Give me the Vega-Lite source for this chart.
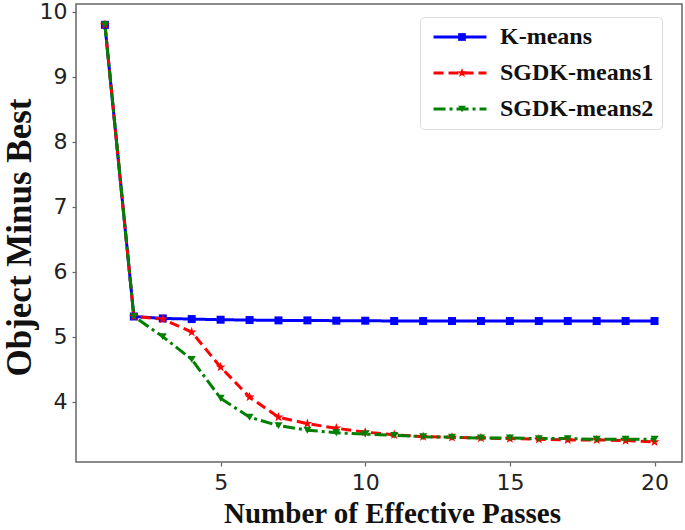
{
  "$schema": "https://vega.github.io/schema/vega-lite/v6.json",
  "autosize": "none",
  "width": 606,
  "height": 458,
  "padding": {"left": 76, "top": 4, "right": 3, "bottom": 68},
  "background": "white",
  "config": {
    "view": {"stroke": "#666", "strokeWidth": 1.5},
    "axis": {
      "grid": false, "domain": false,
      "tickColor": "#666", "tickSize": 4, "tickWidth": 1.2,
      "labelFont": "DejaVu Sans", "labelFontSize": 22, "labelColor": "#222",
      "titleFont": "Liberation Serif", "titleFontWeight": "bold", "titleColor": "#111"
    }
  },
  "data": {"values": [
    {"pass": 1, "series": "K-means", "value": 9.8},
    {"pass": 2, "series": "K-means", "value": 5.31},
    {"pass": 3, "series": "K-means", "value": 5.28},
    {"pass": 4, "series": "K-means", "value": 5.27},
    {"pass": 5, "series": "K-means", "value": 5.26},
    {"pass": 6, "series": "K-means", "value": 5.255},
    {"pass": 7, "series": "K-means", "value": 5.25},
    {"pass": 8, "series": "K-means", "value": 5.25},
    {"pass": 9, "series": "K-means", "value": 5.245},
    {"pass": 10, "series": "K-means", "value": 5.245},
    {"pass": 11, "series": "K-means", "value": 5.24},
    {"pass": 12, "series": "K-means", "value": 5.24},
    {"pass": 13, "series": "K-means", "value": 5.24},
    {"pass": 14, "series": "K-means", "value": 5.24},
    {"pass": 15, "series": "K-means", "value": 5.24},
    {"pass": 16, "series": "K-means", "value": 5.24},
    {"pass": 17, "series": "K-means", "value": 5.24},
    {"pass": 18, "series": "K-means", "value": 5.24},
    {"pass": 19, "series": "K-means", "value": 5.24},
    {"pass": 20, "series": "K-means", "value": 5.24},
    {"pass": 1, "series": "SGDK-means1", "value": 9.8},
    {"pass": 2, "series": "SGDK-means1", "value": 5.31},
    {"pass": 3, "series": "SGDK-means1", "value": 5.27},
    {"pass": 4, "series": "SGDK-means1", "value": 5.07},
    {"pass": 5, "series": "SGDK-means1", "value": 4.53},
    {"pass": 6, "series": "SGDK-means1", "value": 4.07},
    {"pass": 7, "series": "SGDK-means1", "value": 3.76},
    {"pass": 8, "series": "SGDK-means1", "value": 3.66},
    {"pass": 9, "series": "SGDK-means1", "value": 3.59},
    {"pass": 10, "series": "SGDK-means1", "value": 3.53},
    {"pass": 11, "series": "SGDK-means1", "value": 3.49},
    {"pass": 12, "series": "SGDK-means1", "value": 3.46},
    {"pass": 13, "series": "SGDK-means1", "value": 3.45},
    {"pass": 14, "series": "SGDK-means1", "value": 3.44},
    {"pass": 15, "series": "SGDK-means1", "value": 3.43},
    {"pass": 16, "series": "SGDK-means1", "value": 3.42},
    {"pass": 17, "series": "SGDK-means1", "value": 3.41},
    {"pass": 18, "series": "SGDK-means1", "value": 3.41},
    {"pass": 19, "series": "SGDK-means1", "value": 3.4},
    {"pass": 20, "series": "SGDK-means1", "value": 3.38},
    {"pass": 1, "series": "SGDK-means2", "value": 9.8},
    {"pass": 2, "series": "SGDK-means2", "value": 5.31},
    {"pass": 3, "series": "SGDK-means2", "value": 5.0},
    {"pass": 4, "series": "SGDK-means2", "value": 4.65},
    {"pass": 5, "series": "SGDK-means2", "value": 4.05},
    {"pass": 6, "series": "SGDK-means2", "value": 3.76},
    {"pass": 7, "series": "SGDK-means2", "value": 3.63},
    {"pass": 8, "series": "SGDK-means2", "value": 3.56},
    {"pass": 9, "series": "SGDK-means2", "value": 3.52},
    {"pass": 10, "series": "SGDK-means2", "value": 3.5},
    {"pass": 11, "series": "SGDK-means2", "value": 3.48},
    {"pass": 12, "series": "SGDK-means2", "value": 3.46},
    {"pass": 13, "series": "SGDK-means2", "value": 3.45},
    {"pass": 14, "series": "SGDK-means2", "value": 3.44},
    {"pass": 15, "series": "SGDK-means2", "value": 3.44},
    {"pass": 16, "series": "SGDK-means2", "value": 3.43},
    {"pass": 17, "series": "SGDK-means2", "value": 3.43},
    {"pass": 18, "series": "SGDK-means2", "value": 3.42},
    {"pass": 19, "series": "SGDK-means2", "value": 3.42},
    {"pass": 20, "series": "SGDK-means2", "value": 3.42}
  ]},
  "encoding": {
    "x": {
      "field": "pass", "type": "quantitative",
      "scale": {"domain": [0, 20.95], "nice": false, "zero": false},
      "axis": {"values": [5, 10, 15, 20], "title": "Number of Effective Passes", "titleFontSize": 29, "titlePadding": 6, "labelPadding": 6, "titleX": 316}
    },
    "y": {
      "field": "value", "type": "quantitative",
      "scale": {"domain": [3.07, 10.12], "nice": false, "zero": false},
      "axis": {"values": [4, 5, 6, 7, 8, 9, 10], "title": "Object Minus Best", "titleFontSize": 35, "titlePadding": 2, "labelPadding": 5, "titleY": 233}
    }
  },
  "layer": [
    {
      "mark": {"type": "line", "strokeWidth": 3},
      "encoding": {
        "color": {
          "field": "series", "type": "nominal",
          "scale": {"range": ["#0000ff", "#ff0000", "#008000"]},
          "legend": {
            "orient": "none", "legendX": 344, "legendY": 13, "title": null, "zindex": 1,
            "symbolType": "M-5,0H5", "symbolSize": 112, "symbolStrokeWidth": 3, "symbolOffset": 20,
            "labelFont": "Liberation Serif", "labelFontWeight": "bold", "labelFontSize": 24, "labelColor": "#111",
            "labelOffset": 28, "padding": 8, "rowPadding": 12,
            "fillColor": "white", "strokeColor": "#ddd", "cornerRadius": 4
          }
        },
        "strokeDash": {
          "field": "series", "type": "nominal",
          "scale": {"range": [[1, 0], [10, 5], [12, 4, 3, 4]]}
        }
      }
    },
    {
      "mark": {"type": "point", "filled": true, "opacity": 1, "size": 64, "strokeWidth": 0},
      "encoding": {
        "fill": {
          "field": "series", "type": "nominal",
          "scale": {"domain": ["K-means", "SGDK-means1", "SGDK-means2"], "range": ["#0000ff", "#ff0000", "#008000"]},
          "legend": {
            "orient": "none", "legendX": 366, "legendY": 13, "title": null, "zindex": 2,
            "symbolSize": 60, "labelOpacity": 0, "labelFontSize": 24, "labelFont": "Liberation Serif", "labelFontWeight": "bold",
            "padding": 8, "rowPadding": 12, "symbolStrokeWidth": 0
          }
        },
        "shape": {
          "field": "series", "type": "nominal",
          "scale": {
            "domain": ["K-means", "SGDK-means1", "SGDK-means2"],
            "range": ["square", "M0,-1.3L0.3,-0.42L1.24,-0.4L0.49,0.16L0.76,1.05L0,0.52L-0.76,1.05L-0.49,0.16L-1.24,-0.4L-0.3,-0.42Z", "triangle-down"]
          },
          "legend": {
            "orient": "none", "legendX": 366, "legendY": 13, "title": null, "zindex": 2,
            "symbolSize": 60, "labelOpacity": 0, "labelFontSize": 24, "labelFont": "Liberation Serif", "labelFontWeight": "bold",
            "padding": 8, "rowPadding": 12, "symbolStrokeWidth": 0
          }
        }
      }
    }
  ]
}
